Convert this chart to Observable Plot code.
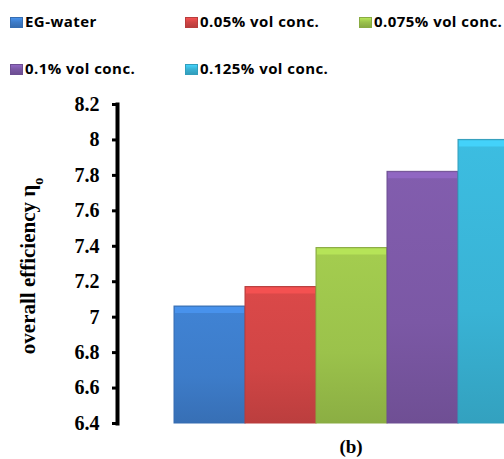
<!DOCTYPE html>
<html>
<head>
<meta charset="utf-8">
<script src="https://cdn.jsdelivr.net/npm/d3@7"></script>
<script src="https://cdn.jsdelivr.net/npm/@observablehq/plot@0.6"></script>
<style>
  html, body { margin: 0; padding: 0; background: white; overflow: hidden; width: 504px; height: 459px; }
  #legend { position: relative; height: 88px; font-family: "Open Sans", sans-serif; font-weight: bold; font-size: 15px; letter-spacing: 0.45px; color: #000; }
  .item { position: absolute; white-space: nowrap; line-height: 16px; }
  .sw { display: inline-block; width: 13px; height: 11px; vertical-align: -1px; margin-right: 2px; box-sizing: border-box; }
  #chart svg { display: block; overflow: hidden; }
  #caption { position: relative; height: 21px; font-family: "Liberation Serif", serif; font-weight: bold; font-size: 19px; }
  #caption span { position: absolute; left: 351px; top: -1px; transform: translateX(-50%); line-height: 19px; }
</style>
</head>
<body>
<div id="legend"></div>
<div id="chart"></div>
<div id="caption"><span>(b)</span></div>
<script>
const categories = ["EG-water", "0.05% vol conc.", "0.075% vol conc.", "0.1% vol conc.", "0.125% vol conc."];
const values = [7.06, 7.17, 7.39, 7.82, 8.00];
const yTicks = [6.4, 6.6, 6.8, 7, 7.2, 7.4, 7.6, 7.8, 8, 8.2];
const colors = ["#3d7cc9", "#d04545", "#9bc24b", "#7b58a5", "#39b3d5"];
const yTitle = "overall efficiency η";
const yTitleSub = "o";

const data = categories.map((name, i) => ({name, value: values[i], i}));
const lighter = c => d3.color(c).brighter(0.45).formatHex();
const darker = c => d3.color(c).darker(0.35).formatHex();

// Legend
const legendPos = [[10, 13], [185, 13], [359, 13], [10, 60], [185, 60]];
const legend = d3.select("#legend");
categories.forEach((name, i) => {
  const it = legend.append("div").attr("class", "item")
    .style("left", legendPos[i][0] + "px").style("top", legendPos[i][1] + "px");
  it.append("span").attr("class", "sw")
    .style("background", `linear-gradient(to bottom, ${lighter(colors[i])} 0%, ${colors[i]} 45%, ${darker(colors[i])} 100%)`)
    .style("border", `1px solid ${darker(colors[i])}`);
  it.append("span").text(name);
});

const yMin = d3.min(yTicks), yMax = d3.max(yTicks);

const svg = Plot.plot({
  width: 504,
  height: 350,
  marginLeft: 117,
  marginRight: 0,
  marginTop: 16,
  marginBottom: 15,
  style: {fontFamily: "'Liberation Serif', serif", fontSize: "20px", fontWeight: "bold", color: "black", background: "white"},
  x: {domain: categories, range: [172.3, 529.8], padding: 0, axis: null},
  y: {domain: [yMin, yMax], axis: null},
  color: {type: "identity"},
  marks: [
    Plot.barY(data, {x: "name", y1: yMin, y2: "value", fill: d => `url(#bevel${d.i})`, stroke: d => darker(colors[d.i]), strokeWidth: 1}),
    Plot.tickY(data, {x: "name", y: "value", stroke: d => lighter(colors[d.i]), strokeWidth: 6, dy: 3.5, inset: 1}),
    Plot.frame({anchor: "left", strokeWidth: 4, stroke: "black"}),
    Plot.axisY({ticks: yTicks, tickFormat: d => String(d), tickSize: 5, tickPadding: 13, strokeWidth: 3, label: null, fontSize: 20, fontWeight: "bold"}),
    Plot.text([yTitle], {text: d => d, frameAnchor: "left", textAnchor: "middle", lineAnchor: "middle", rotate: -90, dx: -89, dy: 2, fontSize: 21, fontWeight: "bold"})
  ]
});

const s = d3.select(svg);
const defs = s.insert("defs", ":first-child");
colors.forEach((c, i) => {
  const g = defs.append("linearGradient").attr("id", `bevel${i}`).attr("x1", 0).attr("y1", 0).attr("x2", 0).attr("y2", 1);
  g.append("stop").attr("offset", "0%").attr("stop-color", d3.color(c).brighter(0.15).formatHex());
  g.append("stop").attr("offset", "60%").attr("stop-color", c);
  g.append("stop").attr("offset", "100%").attr("stop-color", d3.color(c).darker(0.3).formatHex());
});
// subscript on the axis title
s.selectAll("g[aria-label='text'] text").append("tspan")
  .attr("baseline-shift", "sub").attr("font-size", 14).text(yTitleSub);

document.getElementById("chart").appendChild(svg);
</script>
</body>
</html>
